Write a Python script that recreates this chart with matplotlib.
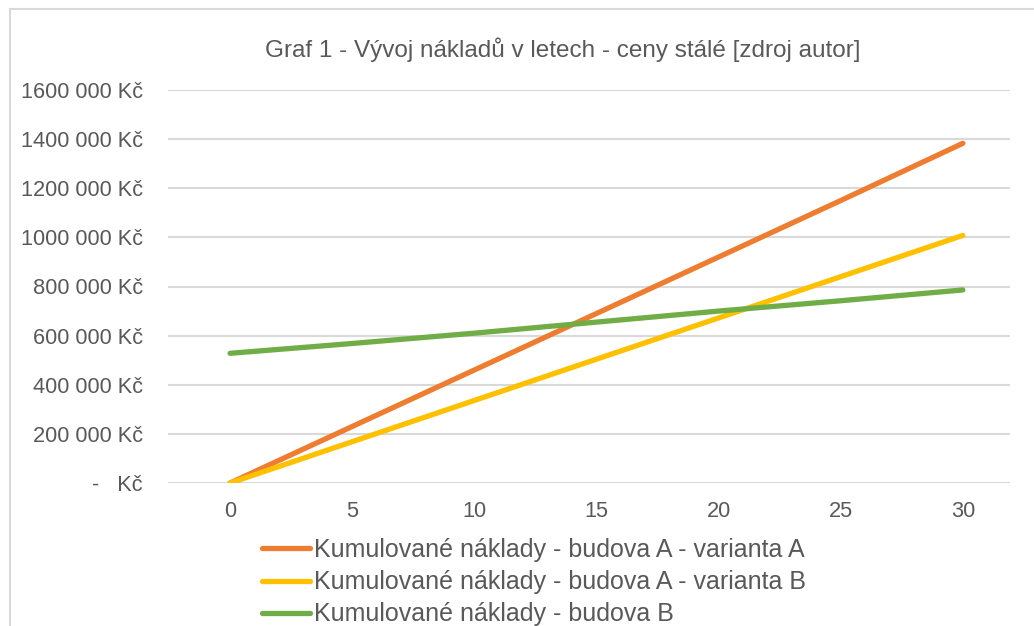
# graf kumulovanych nakladu v letech
import numpy as np
import matplotlib
matplotlib.use('Agg')
import matplotlib.pyplot as plt
from matplotlib.lines import Line2D

# data
roky = [0, 5, 10, 15, 20, 25, 30]
naklady_A_varA = [0, 230000, 460000, 690000, 920000, 1150000, 1383000]
naklady_A_varB = [0, 168000, 336000, 504000, 672000, 840000, 1008000]
naklady_B = [528000, 568000, 610000, 655000, 700000, 742000, 786000]

nazvy = ['Kumulované náklady - budova A - varianta A',
         'Kumulované náklady - budova A - varianta B',
         'Kumulované náklady - budova B']
barvy = ['#ED7D31', '#FFC000', '#70AD47']

y_ticks = [0, 200000, 400000, 600000, 800000, 1000000, 1200000, 1400000, 1600000]
y_labels = ['-   Kč', '200 000 Kč', '400 000 Kč', '600 000 Kč', '800 000 Kč',
            '1000 000 Kč', '1200 000 Kč', '1400 000 Kč', '1600 000 Kč']
x_ticks = [0, 5, 10, 15, 20, 25, 30]

plt.rcParams['font.family'] = ['Liberation Sans', 'DejaVu Sans']
seda = '#595959'
fs = 15.7

fig = plt.figure(figsize=(10.34, 6.26), dpi=100)
ax = fig.add_axes([168/1034, 1-483/626, (1010-168)/1034, (483-90)/626])

for data, barva, nazev in zip([naklady_A_varA, naklady_A_varB, naklady_B], barvy, nazvy):
    ax.plot(roky, data, color=barva, lw=3.8, solid_capstyle='round', label=nazev, zorder=3)

ax.set_xlim(-2.54, 31.93)
ax.set_ylim(0, 1600000)
ax.set_yticks(y_ticks)
ax.set_yticklabels(y_labels)
ax.set_xticks(x_ticks)
ax.set_xticklabels([str(x) for x in x_ticks])
ax.tick_params(axis='both', length=0, labelsize=fs, labelcolor=seda)
ax.tick_params(axis='y', pad=18)
ax.tick_params(axis='x', pad=13)
ax.grid(axis='y', color='#D9D9D9', lw=1.5, zorder=0)
for s in ax.spines.values():
    s.set_visible(False)

fig.text(563/1034, 1-50/626, 'Graf 1 - Vývoj nákladů v letech - ceny stálé [zdroj autor]',
         ha='center', va='center', fontsize=17.5, color=seda)

# ramecek grafu
fig.add_artist(Line2D([10/1034, 10/1034], [0, 1-9/626], color='#D9D9D9', lw=1.5))
fig.add_artist(Line2D([10/1034, 1], [1-9/626, 1-9/626], color='#D9D9D9', lw=1.5))

leg = fig.legend(loc='upper left', bbox_to_anchor=(262/1034, 1-538/626), frameon=False,
                 fontsize=18, handlelength=1.9, handletextpad=0.2, labelspacing=0.33,
                 borderpad=0, borderaxespad=0)
for t in leg.get_texts():
    t.set_color(seda)

plt.savefig('out.png', dpi=100)
